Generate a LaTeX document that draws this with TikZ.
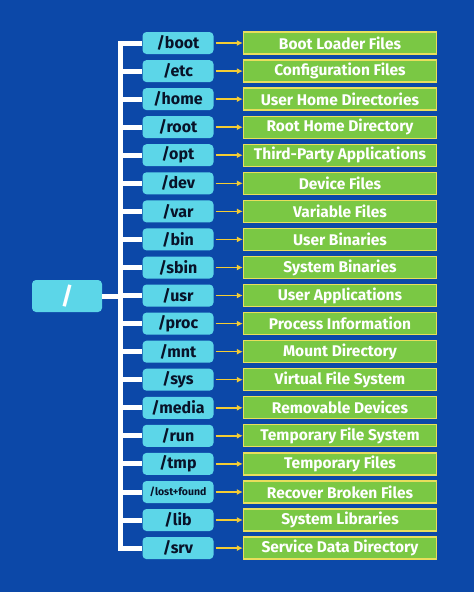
\documentclass[tikz,border=0pt]{standalone}
\usepackage{fontspec}
\setmainfont{Fira Sans}
\usetikzlibrary{arrows.meta}

\definecolor{bgblue}{RGB}{12,72,168}
\definecolor{dircyan}{RGB}{92,214,232}
\definecolor{descgreen}{RGB}{122,200,68}
\definecolor{rimyellow}{RGB}{232,222,92}
\definecolor{arrowyellow}{RGB}{244,204,52}
\definecolor{navy}{RGB}{8,18,40}

\begin{document}
\begin{tikzpicture}[x=1pt, y=-1pt,
        dir/.style={rectangle, rounded corners=4pt, fill=dircyan, minimum width=71pt, minimum height=22pt, inner sep=0pt, text=navy, font=\fontsize{16}{16}\selectfont\bfseries},
        desc/.style={rectangle, fill=descgreen, draw=rimyellow, line width=1.3pt, minimum width=193pt, minimum height=22pt, inner sep=0pt, text=white, font=\fontsize{15.5}{15.5}\selectfont\bfseries},
        trunk/.style={white, line width=5pt, line join=miter},
        pointer/.style={arrowyellow, line width=1.5pt, shorten <=2pt, -{Latex[length=6pt, width=6pt]}}]
        \fill[bgblue] (0,0) rectangle (474,592);

        \node[dir, minimum width=70pt, minimum height=32pt, font=\fontsize{24}{24}\selectfont\bfseries, text=white] (rootdir) at (67,296) {/};
        \coordinate (spine) at (120,296);

        \node[dir] (boot) at (178,43) {/boot};
        \node[dir] (etc) at (178,71.1) {/etc};
        \node[dir] (home) at (178,99.1) {/home};
        \node[dir] (root) at (178,127.2) {/root};
        \node[dir] (opt) at (178,155.2) {/opt};
        \node[dir] (dev) at (178,183.3) {/dev};
        \node[dir] (var) at (178,211.4) {/var};
        \node[dir] (bin) at (178,239.4) {/bin};
        \node[dir] (sbin) at (178,267.5) {/sbin};
        \node[dir] (usr) at (178,295.5) {/usr};
        \node[dir] (proc) at (178,323.6) {/proc};
        \node[dir] (mnt) at (178,351.7) {/mnt};
        \node[dir] (sys) at (178,379.7) {/sys};
        \node[dir] (media) at (178,407.8) {/media};
        \node[dir] (run) at (178,435.8) {/run};
        \node[dir] (tmp) at (178,463.9) {/tmp};
        \node[dir, font=\fontsize{10.5}{10.5}\selectfont\bfseries] (lostfound) at (178,492) {/lost+found};
        \node[dir] (lib) at (178,520) {/lib};
        \node[dir] (srv) at (178,548.1) {/srv};

        \node[desc] (bootdesc) at (340,43) {Boot Loader Files};
        \node[desc] (etcdesc) at (340,71.1) {Configuration Files};
        \node[desc] (homedesc) at (340,99.1) {User Home Directories};
        \node[desc] (rootdesc) at (340,127.2) {Root Home Directory};
        \node[desc] (optdesc) at (340,155.2) {Third-Party Applications};
        \node[desc] (devdesc) at (340,183.3) {Device Files};
        \node[desc] (vardesc) at (340,211.4) {Variable Files};
        \node[desc] (bindesc) at (340,239.4) {User Binaries};
        \node[desc] (sbindesc) at (340,267.5) {System Binaries};
        \node[desc] (usrdesc) at (340,295.5) {User Applications};
        \node[desc] (procdesc) at (340,323.6) {Process Information};
        \node[desc] (mntdesc) at (340,351.7) {Mount Directory};
        \node[desc] (sysdesc) at (340,379.7) {Virtual File System};
        \node[desc] (mediadesc) at (340,407.8) {Removable Devices};
        \node[desc] (rundesc) at (340,435.8) {Temporary File System};
        \node[desc] (tmpdesc) at (340,463.9) {Temporary Files};
        \node[desc] (lostfounddesc) at (340,492) {Recover Broken Files};
        \node[desc] (libdesc) at (340,520) {System Libraries};
        \node[desc] (srvdesc) at (340,548.1) {Service Data Directory};

        % tree
        \draw[trunk] (boot) -| (srv -| spine) -- (srv);
        \draw[trunk] (rootdir) -- (spine);
        \foreach \d in {etc,home,root,opt,dev,var,bin,sbin,usr,proc,mnt,sys,media,run,tmp,lostfound,lib}
            \draw[trunk] (\d -| spine) -- (\d);

        % descriptions
        \foreach \d in {boot,etc,home,root,opt,dev,var,bin,sbin,usr,proc,mnt,sys,media,run,tmp,lostfound,lib,srv}
            \draw[pointer] (\d) -- (\d desc);
    \end{tikzpicture}
\end{document}
